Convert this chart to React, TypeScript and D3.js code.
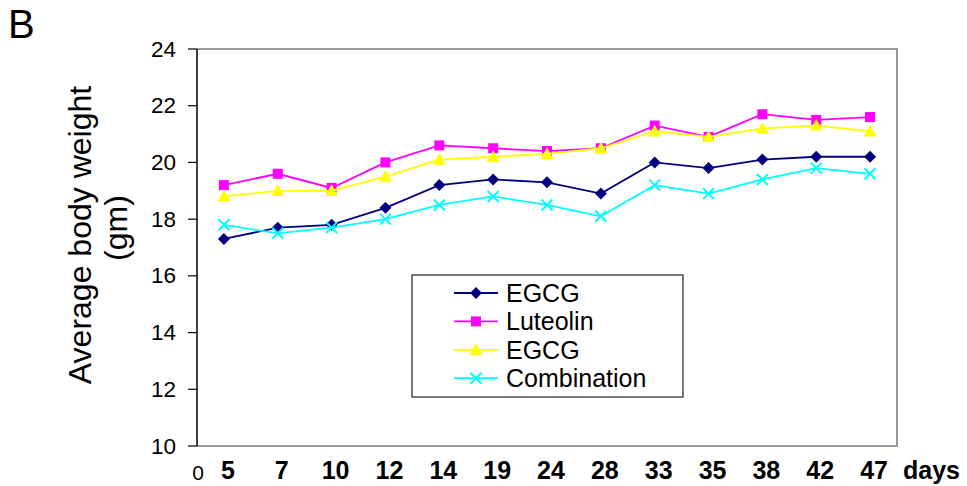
import React from 'react';
import * as d3 from 'd3';

// days of treatment (category axis)
const days = ['5', '7', '10', '12', '14', '19', '24', '28', '33', '35', '38', '42', '47'];

const egcgNavy = [17.3, 17.7, 17.8, 18.4, 19.2, 19.4, 19.3, 18.9, 20.0, 19.8, 20.1, 20.2, 20.2];
const luteolin = [19.2, 19.6, 19.1, 20.0, 20.6, 20.5, 20.4, 20.5, 21.3, 20.9, 21.7, 21.5, 21.6];
const egcgYellow = [18.8, 19.0, 19.0, 19.5, 20.1, 20.2, 20.3, 20.5, 21.1, 20.9, 21.2, 21.3, 21.1];
const combination = [17.8, 17.5, 17.7, 18.0, 18.5, 18.8, 18.5, 18.1, 19.2, 18.9, 19.4, 19.8, 19.6];

const yTicks = [10, 12, 14, 16, 18, 20, 22, 24];

const seriesList = [
  { name: 'EGCG', values: egcgNavy, color: '#000080', marker: 'diamond' },
  { name: 'Luteolin', values: luteolin, color: '#FF00FF', marker: 'square' },
  { name: 'EGCG', values: egcgYellow, color: '#FFFF00', marker: 'triangle' },
  { name: 'Combination', values: combination, color: '#00FFFF', marker: 'cross' },
];

const W = 967;
const H = 486;
const margin = { left: 197, right: 70, top: 49, bottom: 40 };
const FONT = '"Liberation Sans", Arial, sans-serif';

function Marker({ type, x, y, color }: { type: string; x: number; y: number; color: string }) {
  if (type === 'diamond') {
    const r = 6;
    return <path d={`M${x},${y - r}L${x + r},${y}L${x},${y + r}L${x - r},${y}Z`} fill={color} />;
  }
  if (type === 'square') {
    const s = 10;
    return <rect x={x - s / 2} y={y - s / 2} width={s} height={s} fill={color} />;
  }
  if (type === 'triangle') {
    const r = 6.5;
    return <path d={`M${x},${y - r}L${x + r},${y + r * 0.8}L${x - r},${y + r * 0.8}Z`} fill={color} />;
  }
  const r = 5.5;
  return (
    <path
      d={`M${x - r},${y - r}L${x + r},${y + r}M${x - r},${y + r}L${x + r},${y - r}`}
      stroke={color}
      strokeWidth={2}
      fill="none"
    />
  );
}

export default function App() {
  const x0 = margin.left;
  const x1 = W - margin.right;
  const y0 = H - margin.bottom;
  const y1 = margin.top;

  const x = d3.scaleBand().domain(days).range([x0, x1]);
  const y = d3.scaleLinear().domain([10, 24]).range([y0, y1]);
  const cx = (d: string) => (x(d) as number) + x.bandwidth() / 2;

  const line = d3
    .line<number>()
    .x((_, i) => cx(days[i]))
    .y(d => y(d));

  const legend = { left: 412, top: 275, width: 271, height: 122 };

  return (
    <svg
      width={W}
      height={H}
      style={{ position: 'absolute', left: 0, top: 0, background: '#fff' }}
      fontFamily={FONT}
    >
      <rect width={W} height={H} fill="#fff" />
      <text x={8} y={38} fontSize={40}>B</text>

      {/* plot frame */}
      <path d={`M${x0},${y1}H${x1}V${y0}H${x0}`} fill="none" stroke="#999" strokeWidth={2} />
      <line x1={x0} x2={x0} y1={y1} y2={y0} stroke="#000" strokeWidth={1.5} />

      {/* y axis */}
      {yTicks.map(t => (
        <g key={t}>
          <line x1={x0 - 9} x2={x0} y1={y(t)} y2={y(t)} stroke="#000" strokeWidth={1.2} />
          <text x={176} y={y(t)} fontSize={22.5} textAnchor="end" dominantBaseline="central">
            {t}
          </text>
        </g>
      ))}

      {/* y title */}
      <text transform="translate(91,235) rotate(-90)" fontSize={32} textAnchor="middle">
        Average body weight
      </text>
      <text transform="translate(127,228) rotate(-90)" fontSize={32} textAnchor="middle">
        (gm)
      </text>

      {/* x labels */}
      <text x={x0 + 1} y={480} fontSize={21} textAnchor="middle">0</text>
      {days.map(d => (
        <text key={d} x={cx(d) + 4} y={479} fontSize={25} fontWeight="bold" textAnchor="middle">
          {d}
        </text>
      ))}
      <text x={903} y={479} fontSize={25} fontWeight="bold">days</text>

      {/* series */}
      {seriesList.map((s, si) => (
        <g key={si}>
          <path d={line(s.values) || ''} fill="none" stroke={s.color} strokeWidth={1.8} />
          {s.values.map((v, i) => (
            <Marker key={i} type={s.marker} x={cx(days[i])} y={y(v)} color={s.color} />
          ))}
        </g>
      ))}

      {/* legend */}
      <rect
        x={legend.left}
        y={legend.top}
        width={legend.width}
        height={legend.height}
        fill="#fff"
        stroke="#222"
        strokeWidth={1.2}
      />
      {seriesList.map((s, i) => {
        const ly = 293 + i * 28.4;
        return (
          <g key={i}>
            <line x1={454} x2={498} y1={ly} y2={ly} stroke={s.color} strokeWidth={1.8} />
            <Marker type={s.marker} x={476} y={ly} color={s.color} />
            <text x={506} y={ly + 9} fontSize={25}>{s.name}</text>
          </g>
        );
      })}
    </svg>
  );
}
